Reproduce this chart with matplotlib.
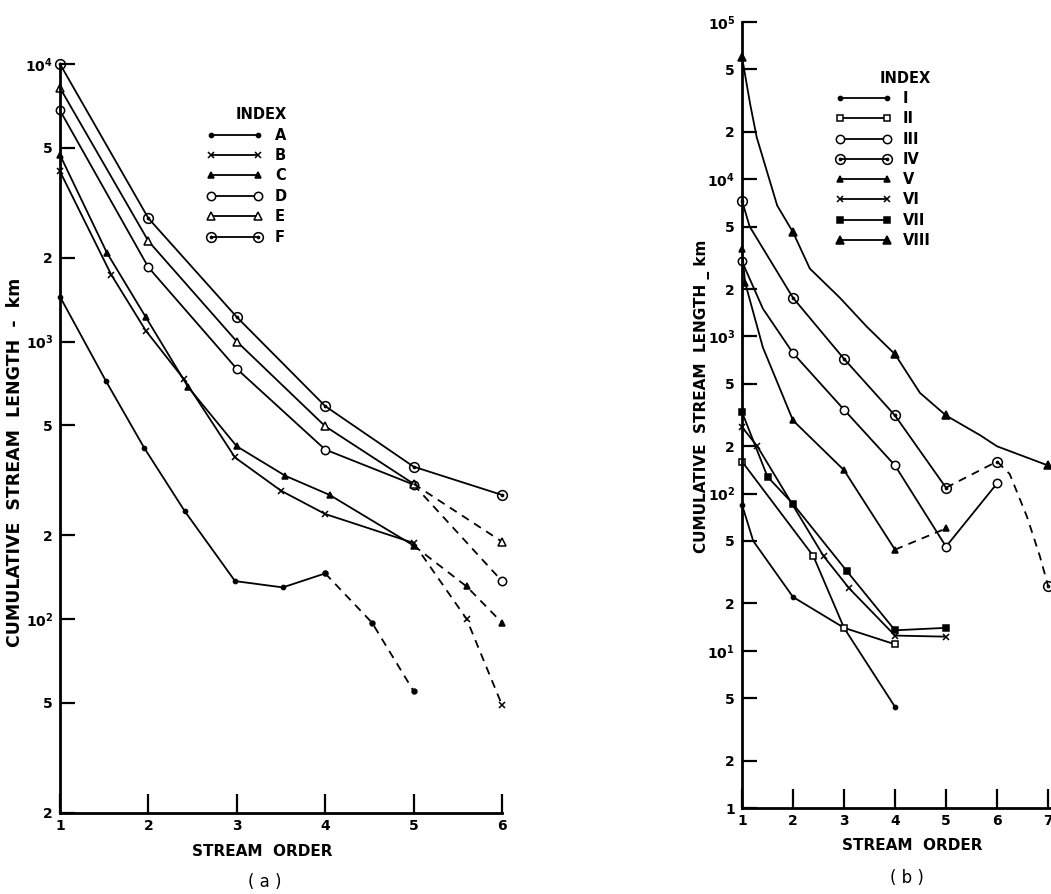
import matplotlib
matplotlib.use('Agg')
import matplotlib.pyplot as plt
from matplotlib.path import Path
from matplotlib.ticker import FixedLocator, FixedFormatter, NullLocator

W, H = 1051, 894

# ---------------- panel (a) data: stream order vs cumulative stream length (km)
a_A_x = [1, 1.52, 1.95, 2.41, 2.98, 3.52, 4.0]
a_A_y = [1450, 720, 415, 245, 137, 130, 146]
a_A_dx = [4.0, 4.53, 5.0]
a_A_dy = [146, 97, 55]

a_B_x = [1, 1.58, 1.97, 2.4, 2.98, 3.5, 4.0, 5.0]
a_B_y = [4100, 1740, 1095, 733, 382, 290, 239, 188]
a_B_dx = [5.0, 5.6, 6.0]
a_B_dy = [188, 100, 49]

a_C_x = [1, 1.53, 1.97, 2.45, 3.0, 3.55, 4.05, 5.0]
a_C_y = [4700, 2090, 1225, 685, 419, 328, 280, 184]
a_C_dx = [5.0, 5.6, 6.0]
a_C_dy = [184, 131, 97]

a_D_x = [1, 2, 3, 4, 5]
a_D_y = [6800, 1850, 797, 408, 305]
a_D_dx = [5, 6]
a_D_dy = [305, 137]

a_E_x = [1, 2, 3, 4, 5]
a_E_y = [8200, 2300, 1000, 495, 307]
a_E_dx = [5, 6]
a_E_dy = [307, 190]

a_F_x = [1, 2, 3, 4, 5, 6]
a_F_y = [10000, 2780, 1225, 585, 354, 280]

a_yticks = [20, 50, 100, 200, 500, 1000, 2000, 5000, 10000]
a_ylabels = ['2', '5', r'$\mathbf{10^{2}}$', '2', '5', r'$\mathbf{10^{3}}$', '2', '5', r'$\mathbf{10^{4}}$']
a_xticks = [1, 2, 3, 4, 5, 6]

# ---------------- panel (b) data
b_I_x = [1, 1.22, 2, 3, 4]
b_I_y = [85, 50, 22, 14, 4.4]
b_I_marks = [0, 2, 3, 4]

b_II_x = [1, 2.4, 3, 4]
b_II_y = [160, 40, 14, 11]

b_III_x = [1, 1.41, 2, 3, 4, 5, 6]
b_III_y = [3000, 1500, 783, 342, 151, 46, 116]
b_III_marks = [0, 2, 3, 4, 5, 6]

b_IV_x = [1, 1.15, 2, 3, 4, 5]
b_IV_y = [7300, 5000, 1760, 720, 314, 109]
b_IV_marks = [0, 2, 3, 4, 5]
b_IV_dx = [5, 6, 6.25, 6.59, 6.84, 7]
b_IV_dy = [109, 160, 133, 71, 40, 26]
b_IV_dmarks = [1, 5]

b_V_x = [1, 1.06, 1.41, 2, 3, 4]
b_V_y = [3600, 2200, 850, 292, 141, 44]
b_V_marks = [0, 1, 3, 4, 5]
b_V_dx = [4, 5]
b_V_dy = [44, 60]

b_VI_x = [1, 1.3, 2.6, 3.1, 4, 5]
b_VI_y = [265, 200, 40, 25, 12.5, 12.3]

b_VII_x = [1, 1.5, 2, 3.06, 4, 5]
b_VII_y = [330, 128, 86, 32, 13.5, 14]

b_VIII_x = [1, 1.16, 1.29, 1.69, 2, 2.33, 2.92, 3.45, 4, 4.49, 5, 5.67, 6, 7]
b_VIII_y = [60000, 30000, 18400, 6800, 4600, 2700, 1760, 1150, 770, 437, 314, 235, 200, 151]
b_VIII_marks = [0, 4, 8, 10, 13]

b_yticks = [1, 2, 5, 10, 20, 50, 100, 200, 500, 1000, 2000, 5000, 10000, 20000, 50000, 100000]
b_ylabels = ['1', '2', '5', r'$\mathbf{10^{1}}$', '2', '5', r'$\mathbf{10^{2}}$', '2', '5',
             r'$\mathbf{10^{3}}$', '2', '5', r'$\mathbf{10^{4}}$', '2', '5', r'$\mathbf{10^{5}}$']
b_xticks = [1, 2, 3, 4, 5, 6, 7]

# circle with a dot in the middle
dot_circle = Path.make_compound_path(Path.unit_circle(), Path.circle((0, 0), 0.22))

LW = 1.3
DASH = (0, (4.5, 3.5))


def px_box(left, top, right, bottom):
    return [left / W, 1 - bottom / H, (right - left) / W, (bottom - top) / H]


def style_axes(ax, yticks, ylabels, xticks):
    ax.set_yscale('log')
    for s in ['top', 'right']:
        ax.spines[s].set_visible(False)
    for s in ['left', 'bottom']:
        ax.spines[s].set_linewidth(2.0)
    ax.yaxis.set_major_locator(FixedLocator(yticks))
    ax.yaxis.set_major_formatter(FixedFormatter(ylabels))
    ax.yaxis.set_minor_locator(NullLocator())
    ax.set_xticks(xticks)
    ax.set_xticklabels([str(t) for t in xticks])
    ax.tick_params(axis='y', direction='in', length=11, width=1.6, pad=5,
                   labelsize=10)
    ax.tick_params(axis='x', direction='in', length=14, width=1.6, pad=4,
                   labelsize=10)
    for lab in ax.get_xticklabels() + ax.get_yticklabels():
        lab.set_fontweight('bold')
    ax.patch.set_alpha(0)


def line(ax, x, y, marker, label=None, dashed=False, marks=None, ms=5, mfc='black', mew=1.1):
    kw = dict(color='black', lw=LW, marker=marker, ms=ms, mfc=mfc, mec='black',
              mew=mew, clip_on=False)
    if dashed:
        kw['linestyle'] = DASH
    if marks is not None:
        kw['markevery'] = marks
    return ax.plot(x, y, label=label, **kw)[0]


fig = plt.figure(figsize=(W / 100, H / 100), dpi=100)
fig.patch.set_facecolor('white')

# ---------------- panel (a)
ax1 = fig.add_axes(px_box(60, 64, 502, 813))
style_axes(ax1, a_yticks, a_ylabels, a_xticks)
ax1.set_xlim(1, 6)
ax1.set_ylim(20, 10000)

line(ax1, a_A_x, a_A_y, 'o', 'A', ms=3)
line(ax1, a_A_dx, a_A_dy, 'o', dashed=True, ms=3.5)
line(ax1, a_B_x, a_B_y, 'x', 'B', ms=5)
line(ax1, a_B_dx, a_B_dy, 'x', dashed=True, ms=5, marks=[1, 2])
line(ax1, a_C_x, a_C_y, '^', 'C', ms=5)
line(ax1, a_C_dx, a_C_dy, '^', dashed=True, ms=5, marks=[1, 2])
line(ax1, a_D_x, a_D_y, 'o', 'D', ms=6, mfc='white')
line(ax1, a_D_dx, a_D_dy, 'o', dashed=True, ms=6, mfc='white', marks=[1])
line(ax1, a_E_x, a_E_y, '^', 'E', ms=6, mfc='white')
line(ax1, a_E_dx, a_E_dy, '^', dashed=True, ms=6, mfc='white', marks=[1])
line(ax1, a_F_x, a_F_y, dot_circle, 'F', ms=7, mfc='none')

ax1.legend(loc='upper left', bbox_to_anchor=(0.315, 0.952), numpoints=2,
           frameon=False, handlelength=3.8, handletextpad=0.9, labelspacing=0.37,
           borderpad=0, title='INDEX', alignment='right',
           prop={'weight': 'bold', 'size': 10.5},
           title_fontproperties={'weight': 'bold', 'size': 10.5})

# ---------------- panel (b)
ax2 = fig.add_axes(px_box(742, 22, 1051, 808))
style_axes(ax2, b_yticks, b_ylabels, b_xticks)
ax2.set_xlim(1, 1 + 309 / 51.0)
ax2.set_ylim(1, 100000)

line(ax2, b_I_x, b_I_y, 'o', 'I', ms=3, marks=b_I_marks)
line(ax2, b_II_x, b_II_y, 's', 'II', ms=5, mfc='white')
line(ax2, b_III_x, b_III_y, 'o', 'III', ms=6, mfc='white', marks=b_III_marks)
line(ax2, b_IV_x, b_IV_y, dot_circle, 'IV', ms=7, mfc='none', marks=b_IV_marks)
line(ax2, b_IV_dx, b_IV_dy, dot_circle, dashed=True, ms=7, mfc='none', marks=b_IV_dmarks)
line(ax2, b_V_x, b_V_y, '^', 'V', ms=5, marks=b_V_marks)
line(ax2, b_V_dx, b_V_dy, '^', dashed=True, ms=5, marks=[1])
line(ax2, b_VI_x, b_VI_y, 'x', 'VI', ms=5)
line(ax2, b_VII_x, b_VII_y, 's', 'VII', ms=5)
line(ax2, b_VIII_x, b_VIII_y, '^', 'VIII', ms=6, marks=b_VIII_marks)

ax2.legend(loc='upper left', bbox_to_anchor=(0.28, 0.947), numpoints=2,
           frameon=False, handlelength=3.8, handletextpad=0.8, labelspacing=0.36,
           borderpad=0, title='INDEX', alignment='right',
           prop={'weight': 'bold', 'size': 10.5},
           title_fontproperties={'weight': 'bold', 'size': 10.5})

# ---------------- axis titles and panel captions
fig.text(15 / W, 1 - 462 / H, 'CUMULATIVE  STREAM  LENGTH  -  km', rotation=90,
         ha='center', va='center', fontsize=12.5, fontweight='bold')
fig.text(702 / W, 1 - 396 / H, 'CUMULATIVE  STREAM  LENGTH _ km', rotation=90,
         ha='center', va='center', fontsize=11, fontweight='bold')
fig.text(262 / W, 1 - 851 / H, 'STREAM  ORDER', ha='center', va='center',
         fontsize=11, fontweight='bold')
fig.text(912 / W, 1 - 846 / H, 'STREAM  ORDER', ha='center', va='center',
         fontsize=11, fontweight='bold')
fig.text(265 / W, 1 - 882 / H, '( a )', ha='center', va='center', fontsize=12)
fig.text(907 / W, 1 - 878 / H, '( b )', ha='center', va='center', fontsize=12)

fig.savefig('out.png', dpi=100)
